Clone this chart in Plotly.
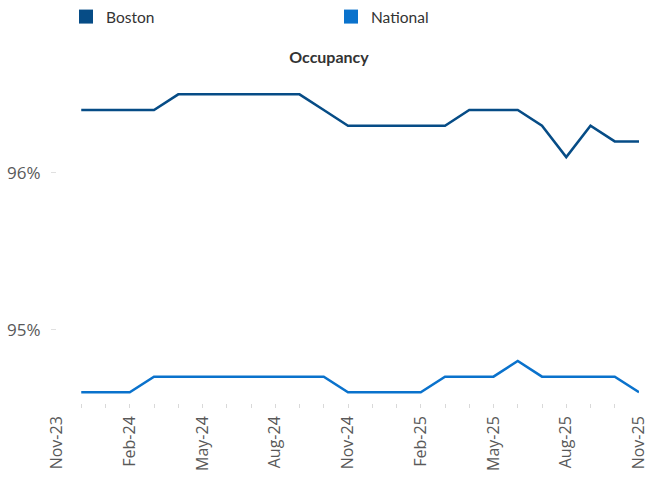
import plotly.graph_objects as go

# Axis months (Nov-23 .. Nov-25); data runs Dec-23 .. Nov-25
months = ["Nov-23", "Dec-23", "Jan-24", "Feb-24", "Mar-24", "Apr-24", "May-24",
          "Jun-24", "Jul-24", "Aug-24", "Sep-24", "Oct-24", "Nov-24", "Dec-24",
          "Jan-25", "Feb-25", "Mar-25", "Apr-25", "May-25", "Jun-25", "Jul-25",
          "Aug-25", "Sep-25", "Oct-25", "Nov-25"]
data_months = months[1:]

boston = [96.4, 96.4, 96.4, 96.4, 96.5, 96.5, 96.5, 96.5, 96.5, 96.5, 96.4, 96.3,
          96.3, 96.3, 96.3, 96.3, 96.4, 96.4, 96.4, 96.3, 96.1, 96.3, 96.2, 96.2]
national = [94.6, 94.6, 94.6, 94.7, 94.7, 94.7, 94.7, 94.7, 94.7, 94.7, 94.7, 94.6,
            94.6, 94.6, 94.6, 94.7, 94.7, 94.7, 94.8, 94.7, 94.7, 94.7, 94.7, 94.6]

y_ticks = [95, 96]
y_ticktext = ["95%", "96%"]
label_months = months[::3]

x_idx = [months.index(m) for m in data_months]
label_idx = [months.index(m) for m in label_months]

BOSTON_C = "#064C86"
NATIONAL_C = "#0A72CC"

L, R, T, B = 57, 7, 63, 72
W, H = 646, 480

fig = go.Figure()
fig.add_trace(go.Scatter(x=x_idx, y=boston, mode="lines", name="Boston",
                         line=dict(color=BOSTON_C, width=2.5), showlegend=False))
fig.add_trace(go.Scatter(x=x_idx, y=national, mode="lines", name="National",
                         line=dict(color=NATIONAL_C, width=2.5), showlegend=False))
# legend entries as squares
fig.add_trace(go.Scatter(x=[None], y=[None], mode="markers", name="Boston",
                         marker=dict(symbol="square", size=14, color=BOSTON_C)))
fig.add_trace(go.Scatter(x=[None], y=[None], mode="markers", name="National",
                         marker=dict(symbol="square", size=14, color=NATIONAL_C)))

fig.update_layout(
    width=W, height=H,
    margin=dict(l=L, r=R, t=T, b=B, autoexpand=False),
    paper_bgcolor="white", plot_bgcolor="white",
    title=dict(text="<b>Occupancy</b>", x=329/W, xanchor="center",
               y=1 - 57/H, yanchor="middle", yref="container",
               font=dict(family="Lato", size=16, color="#333333")),
    legend=dict(orientation="h", x=(66 - L)/(W - L - R), xanchor="left",
                y=1.0, yanchor="top", yref="container",
                entrywidth=220, entrywidthmode="pixels",
                font=dict(family="Lato", size=15.5, color="#333333"),
                itemsizing="trace", bgcolor="rgba(0,0,0,0)"),
    xaxis=dict(range=[0, 24], tickmode="array", tickvals=label_idx, ticktext=label_months,
               tickangle=-90, ticks="inside", ticklen=4, tickcolor="#D9D9D9",
               ticklabeloverflow="allow", ticklabelstandoff=4,
               showgrid=False, zeroline=False, showline=False, automargin=False,
               tickfont=dict(family="Open Sans", size=16, color="#595959"),
               minor=dict(dtick=1, tick0=0, ticks="inside", ticklen=4, tickcolor="#D9D9D9",
                          showgrid=False)),
    yaxis=dict(range=[94.5, 96.7], tickmode="array", tickvals=y_ticks, ticktext=y_ticktext,
               ticks="outside", ticklen=5, tickcolor="#E0E0E0", ticklabelstandoff=7,
               showgrid=False, zeroline=False, showline=False, automargin=False,
               tickfont=dict(family="Open Sans", size=17, color="#595959")),
)

fig.write_html("out.html", config={"displayModeBar": False},
               post_script="document.body.style.margin='0';document.body.style.overflow='hidden';")
